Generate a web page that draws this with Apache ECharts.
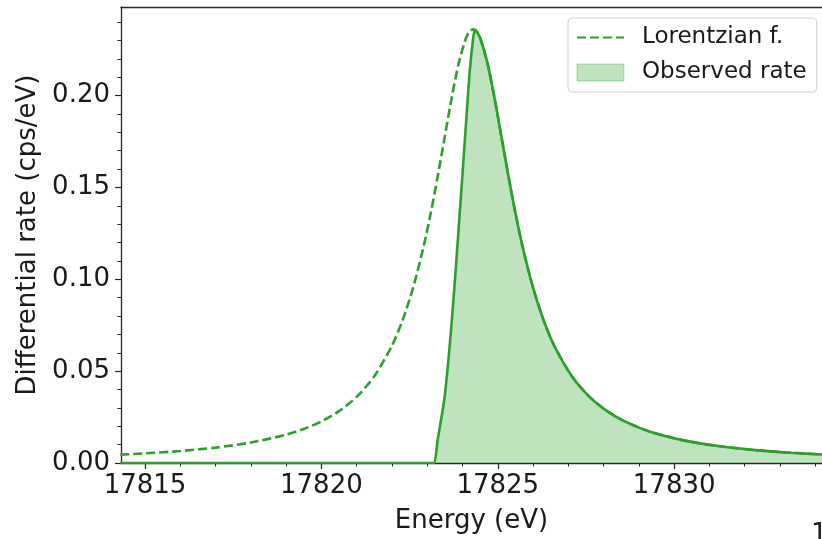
<!DOCTYPE html>
<html>
<head>
<meta charset="utf-8">
<script src="https://cdn.jsdelivr.net/npm/echarts@6/dist/echarts.min.js"></script>
<style>
html,body{margin:0;padding:0;background:#fff;}
#chart{width:822px;height:539px;}
</style>
</head>
<body>
<div id="chart"></div>
<script>
// ---- data ----
const lorentzE = [17814.3, 17815.0, 17816.0, 17817.0, 17818.0, 17819.0, 17819.5, 17820.0, 17820.5, 17821.0,
  17821.5, 17822.0, 17822.3, 17822.6, 17822.9, 17823.1, 17823.3, 17823.5, 17823.7, 17823.9,
  17824.1, 17824.2, 17824.3, 17824.4, 17824.5, 17824.7, 17824.9, 17825.1, 17825.3, 17825.5,
  17825.7, 17826.0, 17826.3, 17826.6, 17827.1, 17827.6, 17828.1, 17828.6, 17829.3, 17830.3,
  17831.3, 17832.3, 17833.3, 17834.3];
const lorentzRate = [0.00454, 0.00523, 0.00653, 0.00837, 0.01111, 0.01539, 0.01850, 0.02262, 0.02821, 0.03600,
  0.04720, 0.06381, 0.07762, 0.09538, 0.11801, 0.13606, 0.15628, 0.17792, 0.19940, 0.21821,
  0.23130, 0.23482, 0.23602, 0.23482, 0.23130, 0.21821, 0.19940, 0.17792, 0.15628, 0.13606,
  0.11801, 0.09538, 0.07762, 0.06381, 0.04720, 0.03600, 0.02821, 0.02262, 0.01716, 0.01219,
  0.00908, 0.00701, 0.00558, 0.00454];

const observedE = [17814.3, 17823.0, 17823.18, 17823.3, 17823.5, 17823.7, 17823.9, 17824.1, 17824.2, 17824.3, 17824.35,
  17824.4, 17824.5, 17824.7, 17824.9, 17825.1, 17825.3, 17825.5, 17825.7, 17826.0, 17826.3,
  17826.6, 17827.1, 17827.6, 17828.1, 17828.6, 17829.3, 17830.3, 17831.3, 17832.3, 17833.3, 17834.3];
const observedRate = [0, 0, 0, 0.013, 0.037, 0.078, 0.130, 0.185, 0.212, 0.231, 0.2357,
  0.23482, 0.23130, 0.21821, 0.19940, 0.17792, 0.15628, 0.13606, 0.11801, 0.09538, 0.07762,
  0.06381, 0.04720, 0.03600, 0.02821, 0.02262, 0.01716, 0.01219, 0.00908, 0.00701, 0.00558, 0.00454];

const xTicks = [17815, 17820, 17825, 17830];
const xMinorTicks = [17815, 17816, 17817, 17818, 17819, 17820, 17821, 17822, 17823, 17824, 17825,
  17826, 17827, 17828, 17829, 17830, 17831, 17832, 17833, 17834];
const yTicks = [0, 0.05, 0.10, 0.15, 0.20];
const yMinorTicks = [0, 0.01, 0.02, 0.03, 0.04, 0.05, 0.06, 0.07, 0.08, 0.09, 0.10, 0.11, 0.12, 0.13,
  0.14, 0.15, 0.16, 0.17, 0.18, 0.19, 0.20, 0.21, 0.22, 0.23, 0.24];
const xRange = [17814.32, 17834.19];
const yRange = [0, 0.2482];
const seriesNames = ['Lorentzian f.', 'Observed rate'];
const xTitle = 'Energy (eV)';
const yTitle = 'Differential rate (cps/eV)';

// ---- chart ----
const FONT = 'DejaVu Sans';
const GREEN = '#2ca02c';
const AX = '#262626';
const TXT = '#1a1a1a';
const chart = echarts.init(document.getElementById('chart'), null, {renderer: 'canvas'});

const pairs = (xs, ys) => xs.map((x, i) => [x, ys[i]]);

const option = {
  animation: false,
  backgroundColor: '#ffffff',
  grid: {left: 121, top: 7, right: 0, bottom: 73, containLabel: false},
  legend: {
    orient: 'vertical', left: 568, top: 18,
    padding: [8, 10, 8, 8],
    itemWidth: 47, itemHeight: 17, itemGap: 12,
    backgroundColor: '#ffffff', borderColor: '#d0d0d0', borderWidth: 1, borderRadius: 4,
    textStyle: {fontFamily: FONT, fontSize: 23, color: TXT, padding: [0, 0, 0, 13]},
    data: [
      {name: seriesNames[0], itemStyle: {opacity: 0}},
      {name: seriesNames[1], icon: 'rect',
       itemStyle: {color: 'rgba(44,160,44,0.3)', borderColor: 'rgba(44,160,44,0.35)', borderWidth: 1, opacity: 1}}
    ]
  },
  xAxis: [
    {
      type: 'value', position: 'bottom', min: xRange[0], max: xRange[1],
      name: xTitle, nameLocation: 'middle', nameGap: 45,
      nameTextStyle: {fontFamily: FONT, fontSize: 26, color: TXT},
      axisLine: {show: true, onZero: false, lineStyle: {color: AX, width: 1.3}},
      axisTick: {show: true, inside: false, length: 6, customValues: xTicks, lineStyle: {color: AX, width: 1.2}},
      axisLabel: {show: true, margin: 10, customValues: xTicks, fontFamily: FONT, fontSize: 26, color: TXT,
                  formatter: v => String(Math.round(v))},
      splitLine: {show: false}
    },
    {
      type: 'value', position: 'bottom', min: xRange[0], max: xRange[1],
      axisLine: {show: false, onZero: false},
      axisTick: {show: true, inside: false, length: 3.5, customValues: xMinorTicks, lineStyle: {color: AX, width: 1}},
      axisLabel: {show: false}, splitLine: {show: false}
    },
    {
      type: 'value', position: 'top', min: xRange[0], max: xRange[1],
      axisLine: {show: true, onZero: false, lineStyle: {color: AX, width: 1.3}},
      axisTick: {show: false}, axisLabel: {show: false}, splitLine: {show: false}
    }
  ],
  yAxis: [
    {
      type: 'value', position: 'left', min: yRange[0], max: yRange[1],
      name: yTitle, nameLocation: 'middle', nameGap: 78, nameRotate: 90,
      nameTextStyle: {fontFamily: FONT, fontSize: 26, color: TXT},
      axisLine: {show: true, onZero: false, lineStyle: {color: AX, width: 1.3}},
      axisTick: {show: true, inside: false, length: 6, customValues: yTicks, lineStyle: {color: AX, width: 1.2}},
      axisLabel: {show: true, margin: 11, customValues: yTicks, fontFamily: FONT, fontSize: 26, color: TXT,
                  formatter: v => v.toFixed(2)},
      splitLine: {show: false}
    },
    {
      type: 'value', position: 'left', min: yRange[0], max: yRange[1],
      axisLine: {show: false, onZero: false},
      axisTick: {show: true, inside: false, length: 3.5, customValues: yMinorTicks, lineStyle: {color: AX, width: 1}},
      axisLabel: {show: false}, splitLine: {show: false}
    }
  ],
  graphic: [
    {type: 'text', left: 811, top: 522, silent: true,
     style: {text: '1', font: '26px "DejaVu Sans"', fill: TXT}}
  ],
  series: [
    {
      name: seriesNames[0], type: 'line', xAxisIndex: 0, yAxisIndex: 0,
      data: pairs(lorentzE, lorentzRate),
      symbol: 'none', showSymbol: false, clip: true, z: 2,
      smooth: 0.25,
      lineStyle: {color: GREEN, width: 2.6, type: [9, 4], opacity: 1},
      itemStyle: {color: GREEN}
    },
    {
      name: seriesNames[1], type: 'line', xAxisIndex: 0, yAxisIndex: 0,
      data: pairs(observedE, observedRate),
      symbol: 'none', showSymbol: false, clip: true, z: 3,
      smooth: 0.25,
      lineStyle: {color: GREEN, width: 2.6, type: 'solid'},
      itemStyle: {color: GREEN},
      areaStyle: {color: GREEN, opacity: 0.3, origin: 'start'}
    }
  ]
};
chart.setOption(option);
</script>
</body>
</html>
